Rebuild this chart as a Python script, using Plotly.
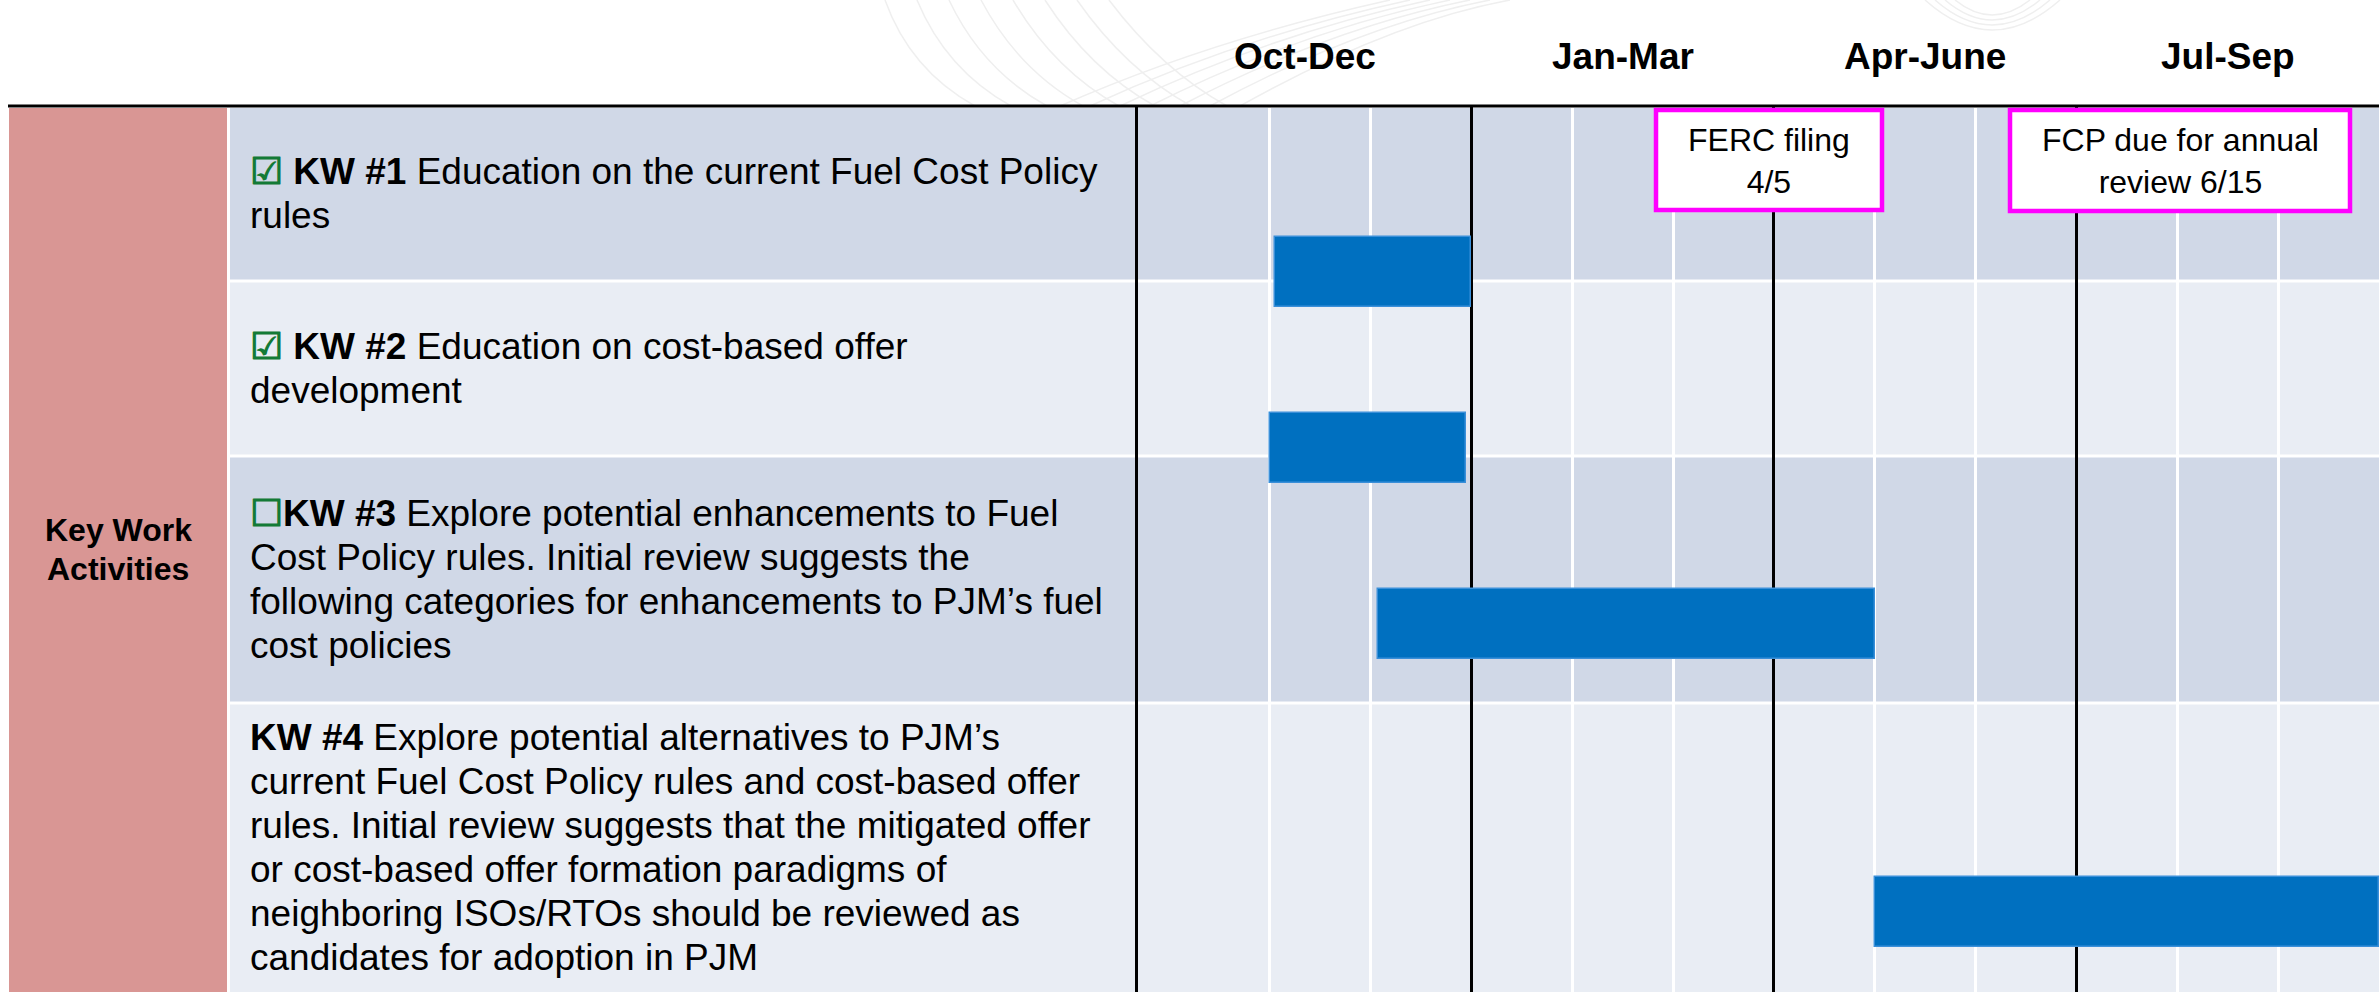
import plotly.graph_objects as go

# ---------------- data ----------------
quarters = ["Oct-Dec", "Jan-Mar", "Apr-June", "Jul-Sep"]
months = ["Oct", "Nov", "Dec", "Jan", "Feb", "Mar", "Apr", "May", "Jun", "Jul", "Aug", "Sep"]
group_label = ["Key Work", "Activities"]
task_ids = ["KW #1", "KW #2", "KW #3", "KW #4"]
task_status = ["done", "done", "open", "none"]
task_lines = [
    ["Education on the current Fuel Cost Policy", "rules"],
    ["Education on cost-based offer", "development"],
    ["Explore potential enhancements to Fuel",
     "Cost Policy rules. Initial review suggests the",
     "following categories for enhancements to PJM\u2019s fuel",
     "cost policies"],
    ["Explore potential alternatives to PJM\u2019s",
     "current Fuel Cost Policy rules and cost-based offer",
     "rules. Initial review suggests that the mitigated offer",
     "or cost-based offer formation paradigms of",
     "neighboring ISOs/RTOs should be reviewed as",
     "candidates for adoption in PJM"],
]
task_start = [1.05, 1.0, 2.07, 7.0]   # months after Oct 1
task_end = [3.0, 2.95, 7.0, 12.0]
milestone_text = ["FERC filing<br>4/5", "FCP due for annual<br>review 6/15"]

# ---------------- layout constants (pixels) ----------------
W, H = 2379, 995
GANTT_X0 = 1138
X_RANGE = [-0.307, 12]
ROW_EDGES = [107, 281, 456, 703, 992]
BAR_LANES = [272, 447.5, 623.5, 912]
BAR_H = 70
RED_X = (9, 227)
TEXT_BG_X0 = 230
TEXT_X = 248
LINE_PITCH = 44
BOXES = [(1656, 1882, 110, 210), (2010, 2350, 110, 211)]

ROW_COLORS = ["#D0D8E7", "#E9EDF4", "#D0D8E7", "#E9EDF4"]
RED = "#D99694"
BAR = "#0070C0"
MAGENTA = "#FF00FF"
CHECK = "#137A36"
FONT = "Arial, Liberation Sans, sans-serif"


def px(x):
    return x / W


def py(y):
    return 1 - y / H


fig = go.Figure()

fig.add_trace(go.Bar(
    orientation="h",
    y=BAR_LANES,
    base=task_start,
    x=[e - s for s, e in zip(task_start, task_end)],
    width=BAR_H,
    marker=dict(color=BAR, line=dict(color="#3A8FD9", width=1.5)),
    hoverinfo="skip",
    showlegend=False,
))

shapes = []
# faint decorative swirl in header
SW = dict(color="#EFEFEF", width=1.5)
for i in range(8):
    x0 = 885 + i * 32
    x1 = 975 + i * 36
    shapes.append(dict(type="path", xref="paper", yref="paper", layer="below",
                       path=f"M {px(x0)},{py(0)} Q {px(x0 + 25 + i*4)},{py(70)} {px(x1)},{py(106)}",
                       line=SW))
for i in range(7):
    cx = 1060 + i * 30
    shapes.append(dict(type="path", xref="paper", yref="paper", layer="below",
                       path=f"M {px(cx)},{py(106)} Q {px(cx + 150)},{py(40 - i*3)} {px(cx + 330 - i*10)},{py(0)}",
                       line=SW))
for i in range(4):
    shapes.append(dict(type="path", xref="paper", yref="paper", layer="below",
                       path=f"M {px(1925 + i*10)},{py(0)} Q {px(1992)},{py(60 - i*10)} {px(2060 - i*10)},{py(0)}",
                       line=SW))

# header line
shapes.append(dict(type="line", xref="paper", yref="paper", x0=px(8), x1=1, y0=py(106), y1=py(106),
                   line=dict(color="black", width=3), layer="above"))
# red group column
shapes.append(dict(type="rect", xref="paper", yref="y", x0=px(RED_X[0]), x1=px(RED_X[1]),
                   y0=ROW_EDGES[0] + 1, y1=ROW_EDGES[-1], fillcolor=RED, line_width=0, layer="below"))
# row backgrounds
for i in range(4):
    top = ROW_EDGES[i] + (1 if i == 0 else 1.5)
    bot = ROW_EDGES[i + 1] - (1.5 if i < 3 else 0)
    shapes.append(dict(type="rect", xref="paper", yref="y", x0=px(TEXT_BG_X0), x1=1,
                       y0=top, y1=bot, fillcolor=ROW_COLORS[i], line_width=0, layer="below"))
# milestone boxes
for (x0, x1, y0, y1) in BOXES:
    shapes.append(dict(type="rect", xref="paper", yref="y", x0=px(x0), x1=px(x1), y0=y0, y1=y1,
                       fillcolor="white", line=dict(color=MAGENTA, width=4.5), layer="above"))

annotations = []
# quarter headers
q_edges = [X_RANGE[0], 3, 6, 9, 12]
for i, q in enumerate(quarters):
    annotations.append(dict(x=(q_edges[i] + q_edges[i + 1]) / 2, y=py(56), xref="x", yref="paper",
                            xanchor="center", yanchor="middle",
                            text=f"<b>{q}</b>", showarrow=False,
                            font=dict(family=FONT, size=37, color="black")))
# group label
g_mid = (ROW_EDGES[0] + ROW_EDGES[-1]) / 2
for k, ln in enumerate(group_label):
    annotations.append(dict(x=px((RED_X[0] + RED_X[1]) / 2), y=g_mid + (k - 0.5) * 39.5,
                            xref="paper", yref="y", xanchor="center", yanchor="middle",
                            text=f"<b>{ln}</b>", showarrow=False,
                            font=dict(family=FONT, size=32, color="black")))
# task texts, one annotation per line
for i in range(4):
    if task_status[i] == "done":
        prefix = f"<span style='color:{CHECK};font-weight:bold'>\u2611</span> "
    elif task_status[i] == "open":
        prefix = f"<span style='color:{CHECK};font-weight:bold'>\u2610</span>"
    else:
        prefix = ""
    lines = task_lines[i]
    n = len(lines)
    mid = (ROW_EDGES[i] + ROW_EDGES[i + 1]) / 2
    for k, ln in enumerate(lines):
        txt = f"{prefix}<b>{task_ids[i]}</b> {ln}" if k == 0 else ln
        annotations.append(dict(x=px(TEXT_X), y=mid + (k - (n - 1) / 2) * LINE_PITCH,
                                xref="paper", yref="y",
                                xanchor="left", yanchor="middle", align="left", showarrow=False,
                                text=txt, font=dict(family=FONT, size=37, color="black")))
# milestone labels
for (x0, x1, y0, y1), t in zip(BOXES, milestone_text):
    annotations.append(dict(x=px((x0 + x1) / 2), y=(y0 + y1) / 2 + 1, xref="paper", yref="y",
                            xanchor="center", yanchor="middle",
                            text=t, showarrow=False, font=dict(family=FONT, size=32, color="black")))

quarter_bounds = [m for m in range(1, len(months)) if m % 3 == 0]
month_bounds = [m for m in range(1, len(months)) if m % 3 != 0]

fig.update_layout(
    width=W, height=H, autosize=False,
    margin=dict(l=0, r=0, t=0, b=0, pad=0),
    paper_bgcolor="white", plot_bgcolor="rgba(0,0,0,0)",
    bargap=0,
    shapes=shapes, annotations=annotations,
    xaxis=dict(domain=[px(GANTT_X0), 1], range=X_RANGE, showticklabels=False, ticks="",
               tickmode="array", tickvals=quarter_bounds, showgrid=True, gridcolor="black", gridwidth=3,
               minor=dict(tickmode="array", tickvals=month_bounds, showgrid=True, gridcolor="white", gridwidth=2.5),
               zeroline=False, showline=False, fixedrange=True),
    yaxis=dict(domain=[py(ROW_EDGES[-1]), py(ROW_EDGES[0])], range=[ROW_EDGES[-1], ROW_EDGES[0]],
               showticklabels=False, ticks="", showgrid=False, zeroline=False,
               showline=True, linecolor="black", linewidth=3, fixedrange=True),
)

fig.write_html("out.html", config={"displayModeBar": False},
               post_script="document.body.style.margin='0';document.body.style.overflow='hidden';")
